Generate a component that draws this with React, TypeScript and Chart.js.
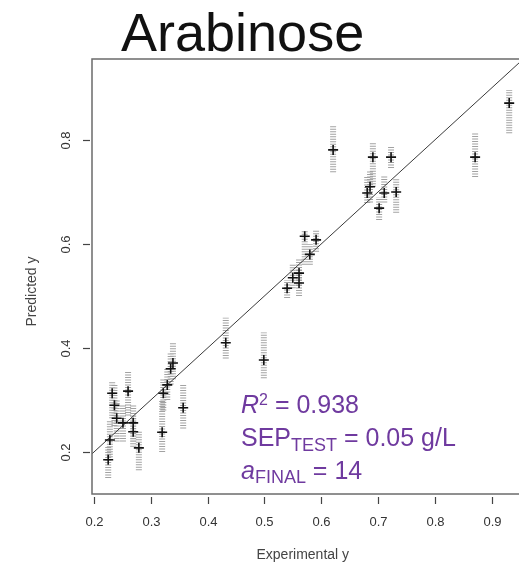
import React, { useEffect, useRef } from "react";
import { Chart, registerables } from "chart.js";

Chart.register(...registerables);

// Experimental value of each test sample and the spread of its repeated predictions
const experimental = [
  0.225, 0.228, 0.232, 0.236, 0.24, 0.251, 0.26, 0.269, 0.269, 0.279,
  0.32, 0.322, 0.329, 0.335, 0.339, 0.357, 0.432, 0.499, 0.54, 0.55,
  0.561, 0.561, 0.571, 0.58, 0.591, 0.621, 0.681, 0.686, 0.691, 0.702,
  0.711, 0.723, 0.732, 0.871, 0.931,
];
const predictedMean = [
  0.185, 0.223, 0.313, 0.29, 0.265, 0.256, 0.317, 0.256, 0.239, 0.208,
  0.238, 0.313, 0.329, 0.36, 0.371, 0.285, 0.41, 0.377, 0.515, 0.535,
  0.544, 0.525, 0.615, 0.58, 0.608, 0.781, 0.698, 0.71, 0.767, 0.669,
  0.698, 0.767, 0.7, 0.767, 0.871,
];
const predictedLow = [
  0.15, 0.19, 0.265, 0.25, 0.22, 0.22, 0.27, 0.22, 0.21, 0.165,
  0.2, 0.28, 0.3, 0.33, 0.34, 0.245, 0.38, 0.342, 0.496, 0.515,
  0.52, 0.5, 0.56, 0.56, 0.585, 0.738, 0.679, 0.68, 0.71, 0.646,
  0.68, 0.746, 0.66, 0.729, 0.813,
];
const predictedHigh = [
  0.21, 0.26, 0.335, 0.33, 0.3, 0.29, 0.355, 0.29, 0.27, 0.24,
  0.3, 0.34, 0.36, 0.39, 0.41, 0.33, 0.458, 0.43, 0.531, 0.56,
  0.57, 0.55, 0.627, 0.6, 0.627, 0.829, 0.729, 0.74, 0.796, 0.69,
  0.73, 0.787, 0.727, 0.813, 0.896,
];

const xTicks = [0.2, 0.3, 0.4, 0.5, 0.6, 0.7, 0.8, 0.9];
const yTicks = [0.2, 0.4, 0.6, 0.8];

const titleText = "Arabinose";
const xTitle = "Experimental y";
const yTitle = "Predicted y";
const r2Value = "0.938";
const sepValue = "0.05 g/L";
const aFinalValue = "14";

const FONT = '"Liberation Sans", Arial, Helvetica, sans-serif';
const PURPLE = "#6f3a9f";

type Part = { text: string; size: number; italic?: boolean; dy?: number };

function drawRich(ctx: CanvasRenderingContext2D, x: number, y: number, parts: Part[]) {
  let cx = x;
  for (const p of parts) {
    ctx.font = `${p.italic ? "italic " : ""}${p.size}px ${FONT}`;
    ctx.fillText(p.text, cx, y + (p.dy || 0));
    cx += ctx.measureText(p.text).width;
  }
}

// R-style frame, ticks, labels and the fit statistics
const frameAndText = {
  id: "frameAndText",
  afterDraw(chart: any) {
    const { ctx, chartArea, scales } = chart;
    const xs = scales.x;
    const ys = scales.y;
    ctx.save();

    // plot box
    ctx.strokeStyle = "#6b6b6b";
    ctx.lineWidth = 1.5;
    ctx.strokeRect(chartArea.left, chartArea.top, chartArea.right - chartArea.left, chartArea.bottom - chartArea.top);

    // x ticks and labels
    ctx.strokeStyle = "#444";
    ctx.lineWidth = 1.2;
    ctx.fillStyle = "#333";
    ctx.font = `13px ${FONT}`;
    ctx.textAlign = "center";
    ctx.textBaseline = "middle";
    for (const v of xTicks) {
      const px = Math.round(xs.getPixelForValue(v)) + 0.5;
      ctx.beginPath();
      ctx.moveTo(px, chartArea.bottom + 3);
      ctx.lineTo(px, chartArea.bottom + 10);
      ctx.stroke();
      ctx.fillText(v.toFixed(1), px, chartArea.bottom + 28);
    }

    // y ticks and rotated labels
    for (const v of yTicks) {
      const py = Math.round(ys.getPixelForValue(v)) + 0.5;
      ctx.beginPath();
      ctx.moveTo(chartArea.left - 9, py);
      ctx.lineTo(chartArea.left - 2, py);
      ctx.stroke();
      ctx.save();
      ctx.translate(chartArea.left - 26, py);
      ctx.rotate(-Math.PI / 2);
      ctx.fillText(v.toFixed(1), 0, 0);
      ctx.restore();
    }

    // axis titles
    ctx.fillStyle = "#444";
    ctx.font = `14px ${FONT}`;
    ctx.fillText(xTitle, (xs.getPixelForValue(0.2) + xs.getPixelForValue(0.9)) / 2 + 10, chartArea.bottom + 61);
    ctx.save();
    ctx.translate(32, (chartArea.top + chartArea.bottom) / 2 + 15);
    ctx.rotate(-Math.PI / 2);
    ctx.fillText(yTitle, 0, 0);
    ctx.restore();

    // main title
    ctx.textAlign = "left";
    ctx.textBaseline = "alphabetic";
    ctx.fillStyle = "#111";
    ctx.font = `54px ${FONT}`;
    ctx.fillText(titleText, 121, 51);

    // fit statistics
    ctx.fillStyle = PURPLE;
    drawRich(ctx, 241, 413, [
      { text: "R", size: 25, italic: true },
      { text: "2", size: 16, dy: -8 },
      { text: " = " + r2Value, size: 25 },
    ]);
    drawRich(ctx, 241, 446, [
      { text: "SEP", size: 25 },
      { text: "TEST", size: 18, dy: 5 },
      { text: " = " + sepValue, size: 25 },
    ]);
    drawRich(ctx, 241, 479, [
      { text: "a", size: 25, italic: true },
      { text: "FINAL", size: 18, dy: 4 },
      { text: " = " + aFinalValue, size: 25 },
    ]);

    ctx.restore();
  },
};

export default function App() {
  const canvasRef = useRef<HTMLCanvasElement | null>(null);

  useEffect(() => {
    if (!canvasRef.current) return;

    const spread = experimental.flatMap((x, i) => [
      { x, y: predictedLow[i] },
      { x, y: predictedHigh[i] },
      { x, y: null as any },
    ]);
    const means = experimental.map((x, i) => ({ x, y: predictedMean[i] }));

    const chart = new Chart(canvasRef.current, {
      type: "scatter",
      data: {
        datasets: [
          {
            type: "scatter",
            data: means,
            pointStyle: "cross",
            pointRadius: 5,
            borderWidth: 1.6,
            borderColor: "#111",
            backgroundColor: "#111",
            order: 0,
          } as any,
          {
            type: "line",
            data: [
              { x: 0.1, y: 0.1 },
              { x: 1, y: 1 },
            ],
            borderColor: "#3a3a3a",
            borderWidth: 1,
            pointRadius: 0,
            order: 1,
          } as any,
          {
            type: "line",
            data: spread,
            borderColor: "rgba(100,100,100,0.6)",
            borderWidth: 6,
            borderDash: [1, 1.5],
            borderCapStyle: "butt",
            pointRadius: 0,
            spanGaps: false,
            order: 2,
          } as any,
        ],
      },
      options: {
        animation: false,
        responsive: false,
        layout: { autoPadding: false, padding: { top: 59, left: 0, right: 0, bottom: 0 } },
        plugins: {
          legend: { display: false },
          tooltip: { enabled: false },
          title: { display: false },
        },
        scales: {
          x: {
            type: "linear",
            min: 0.1965,
            max: 0.9641,
            grid: { display: false },
            border: { display: false },
            ticks: { display: false },
            afterFit: (s: any) => {
              s.height = 73;
            },
          },
          y: {
            type: "linear",
            min: 0.1192,
            max: 0.9558,
            grid: { display: false },
            border: { display: false },
            ticks: { display: false },
            afterFit: (s: any) => {
              s.width = 92;
            },
          },
        },
      },
      plugins: [frameAndText],
    });

    return () => chart.destroy();
  }, []);

  return (
    <div style={{ position: "absolute", left: 0, top: 0, width: 519, height: 567, overflow: "hidden", background: "#fff" }}>
      <canvas ref={canvasRef} width={528} height={567} style={{ display: "block" }} />
    </div>
  );
}
